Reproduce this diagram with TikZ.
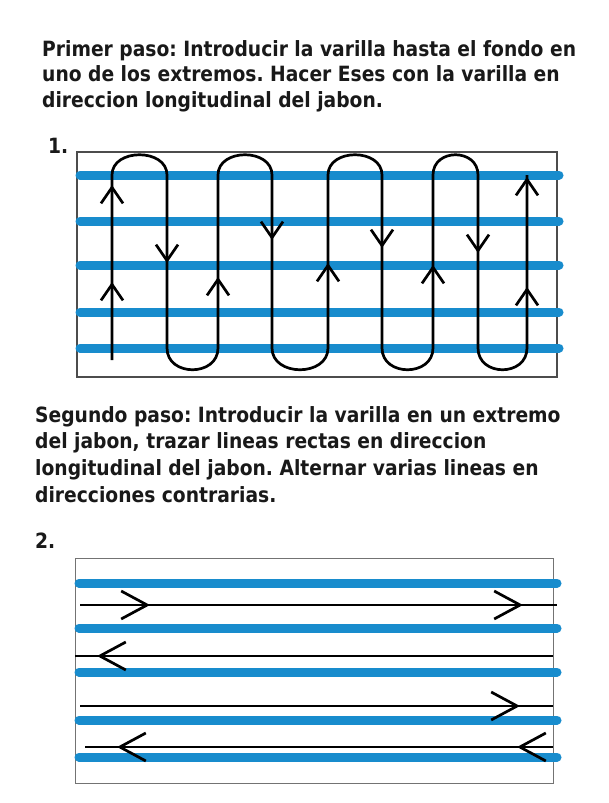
\documentclass[tikz,border=0pt]{standalone}
\usepackage{fontspec}
\newfontfamily\rotulo{DejaVu Sans}[FakeStretch=0.89]
\usetikzlibrary{arrows.meta}
\definecolor{azuljabon}{RGB}{24,140,205}
\definecolor{tinta}{RGB}{25,25,25}
\frenchspacing
\tikzset{
  texto/.style={font=\rotulo\bfseries\fontsize{21}{25.5}\selectfont, text=tinta, align=left, inner sep=0pt, anchor=north west},
  marco/.style={draw=black!70, line width=1.2pt},
  franja/.style={azuljabon, line width=9pt, line cap=round},
  varilla/.style={black, line width=2.7pt},
  punta/.style={varilla, -{Straight Barb[length=16pt,width=22pt]}},
  puntagrande/.style={varilla, -{Straight Barb[length=26pt,width=28pt]}},
}

\begin{document}
\begin{tikzpicture}[x=1pt,y=-1pt]
\useasboundingbox[fill=white] (0,0) rectangle (608,803);

% primer paso
\node[texto] (paso1) at (42,40) {Primer paso: Introducir la varilla hasta el fondo en\\
  uno de los extremos. Hacer Eses con la varilla en\\
  direccion longitudinal del jabon.};
\node[texto] (num1) at (48,138) {1.};
\draw[marco] (77,152) rectangle (557,377);
\foreach \y in {175,221,265,312,348}
  \draw[franja] (80,\y) -- (559,\y);
% varilla en eses
\draw[varilla] (112,360) -- (112,175)
  .. controls (112,148) and (167,148) .. (167,175) -- (167,348)
  .. controls (167,377) and (218,377) .. (218,348) -- (218,175)
  .. controls (218,148) and (272,148) .. (272,175) -- (272,348)
  .. controls (272,377) and (328,377) .. (328,348) -- (328,175)
  .. controls (328,148) and (382,148) .. (382,175) -- (382,348)
  .. controls (382,377) and (433,377) .. (433,348) -- (433,175)
  .. controls (433,148) and (478,148) .. (478,175) -- (478,348)
  .. controls (478,377) and (527,377) .. (527,348) -- (527,175);
\foreach \x/\y in {112/185,112/282,218/277,328/263,433/265,527/177,527/287}
  \draw[punta] (\x,\y+20) -- (\x,\y);
\foreach \x/\y in {167/263,272/240,382/248,478/253}
  \draw[punta] (\x,\y-20) -- (\x,\y);

% segundo paso
\node[texto, font=\rotulo\bfseries\fontsize{21}{26.7}\selectfont] (paso2) at (35,406) {Segundo paso: Introducir la varilla en un extremo\\
  del jabon, trazar lineas rectas en direccion\\
  longitudinal del jabon. Alternar varias lineas en\\
  direcciones contrarias.};
\node[texto] (num2) at (35,533) {2.};
\draw[marco, draw=black!55, line width=1pt] (75,558) rectangle (553,783);
\foreach \y in {583,628,672,720,757}
  \draw[franja] (79,\y) -- (557,\y);
% lineas rectas
\draw[varilla] (80,605) -- (557,605);
\draw[varilla] (75,656) -- (553,656);
\draw[varilla] (80,706) -- (553,706);
\draw[varilla] (85,747) -- (553,747);
\foreach \x/\y in {150/605,523/605,520/706}
  \draw[puntagrande] (\x-30,\y) -- (\x,\y);
\foreach \x/\y in {97/656,117/747,517/747}
  \draw[puntagrande] (\x+30,\y) -- (\x,\y);
\end{tikzpicture}
\end{document}
